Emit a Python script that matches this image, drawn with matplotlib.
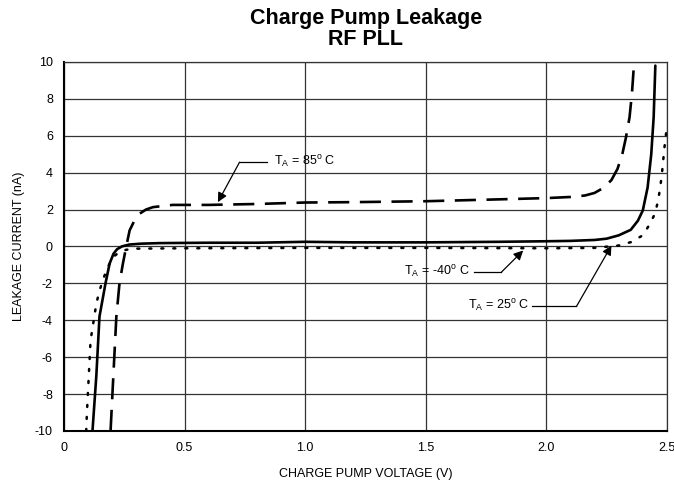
import matplotlib
matplotlib.use("Agg")
import matplotlib.pyplot as plt

plt.rcParams['font.family'] = ['Liberation Sans', 'DejaVu Sans']
plt.rcParams['mathtext.fontset'] = 'custom'
plt.rcParams['mathtext.rm'] = 'Liberation Sans'
plt.rcParams['axes.unicode_minus'] = False

# curvas (tensao V, corrente nA)
v_25 = [0.118, 0.134, 0.147, 0.172, 0.189, 0.205, 0.22, 0.24, 0.27, 0.32, 0.4, 0.6, 0.8, 1.0,
        1.2, 1.5, 1.8, 2.0, 2.1, 2.2, 2.25, 2.3, 2.35, 2.38, 2.4, 2.42, 2.435, 2.445, 2.452]
i_25 = [-10, -7.0, -3.8, -2.0, -0.93, -0.4, -0.15, 0.0, 0.1, 0.15, 0.18, 0.2, 0.2, 0.25,
        0.22, 0.22, 0.25, 0.28, 0.3, 0.35, 0.42, 0.6, 0.9, 1.4, 1.95, 3.2, 5.0, 7.0, 9.8]

v_85 = [0.193, 0.203, 0.217, 0.23, 0.244, 0.258, 0.272, 0.29, 0.313, 0.34, 0.369, 0.45, 0.6,
        0.8, 1.0, 1.2, 1.5, 1.8, 2.0, 2.1, 2.16, 2.2, 2.24, 2.27, 2.295, 2.315, 2.33, 2.345, 2.355, 2.363]
i_85 = [-10, -7.4, -3.8, -2.0, -0.94, 0.0, 0.87, 1.35, 1.77, 2.0, 2.13, 2.25, 2.25,
        2.3, 2.38, 2.4, 2.45, 2.55, 2.62, 2.68, 2.76, 2.9, 3.2, 3.6, 4.2, 5.0, 5.9, 7.0, 8.3, 9.8]

v_m40 = [0.092, 0.095, 0.11, 0.134, 0.147, 0.161, 0.178, 0.203, 0.23, 0.258, 0.3, 0.5, 1.0,
         1.5, 2.0, 2.2, 2.3, 2.35, 2.4, 2.43, 2.45, 2.464, 2.478, 2.49, 2.5]
i_m40 = [-10, -9.0, -5.1, -3.1, -2.4, -1.84, -1.21, -0.58, -0.3, -0.18, -0.12, -0.1, -0.08,
         -0.08, -0.1, -0.08, 0.05, 0.23, 0.6, 1.23, 1.77, 2.5, 3.76, 5.4, 6.5]

x_ticks = [0, 0.5, 1.0, 1.5, 2.0, 2.5]
x_labels = ['0', '0.5', '1.0', '1.5', '2.0', '2.5']
y_ticks = [-10, -8, -6, -4, -2, 0, 2, 4, 6, 8, 10]

fig = plt.figure(figsize=(6.74, 4.82), dpi=100)
ax = fig.add_axes([0.095, 0.106, 0.8945, 0.7655])

ax.plot(v_25, i_25, color='black', lw=1.9, solid_capstyle='round', solid_joinstyle='round')
ax.plot(v_85, i_85, color='black', lw=1.9, linestyle=(0, (8, 4)))
ax.plot(v_m40, i_m40, color='black', lw=1.8, linestyle=(0, (0.8, 4.0)), dash_capstyle='round')

ax.set_xlim(0, 2.5)
ax.set_ylim(-10, 10)
ax.set_xticks(x_ticks)
ax.set_xticklabels(x_labels)
ax.set_yticks(y_ticks)
ax.tick_params(length=0, labelsize=9, pad=8)
ax.grid(True, color='#333333', lw=0.9)
ax.set_axisbelow(True)
for s in ax.spines.values():
    s.set_color('#333333')
    s.set_linewidth(0.9)
ax.spines['left'].set_color('black')
ax.spines['left'].set_linewidth(1.5)
ax.spines['bottom'].set_color('black')
ax.spines['bottom'].set_linewidth(1.5)

ax.set_xlabel('CHARGE PUMP VOLTAGE (V)', fontsize=9, labelpad=10)
ax.set_ylabel('LEAKAGE CURRENT (nA)', fontsize=9, labelpad=7)

# anotacoes com linha de chamada
arrow = dict(arrowstyle='-|>', color='black', lw=0.9, mutation_scale=14, shrinkA=0, shrinkB=0)
fs = 9

ax.plot([0.728, 0.84], [4.57, 4.57], color='black', lw=0.9)
ax.annotate('', xy=(0.638, 2.4), xytext=(0.728, 4.57), arrowprops=arrow)
ax.text(0.87, 4.57, r'T$_\mathregular{A}$ = 85$^\mathregular{o}$ C', fontsize=fs, va='center', ha='left')

ax.plot([1.70, 1.814], [-1.39, -1.39], color='black', lw=0.9)
ax.annotate('', xy=(1.904, -0.22), xytext=(1.814, -1.39), arrowprops=arrow)
ax.text(1.68, -1.39, r'T$_\mathregular{A}$ = -40$^\mathregular{o}$ C', fontsize=fs, va='center', ha='right')

ax.plot([1.94, 2.125], [-3.25, -3.25], color='black', lw=0.9)
ax.annotate('', xy=(2.27, 0.05), xytext=(2.125, -3.25), arrowprops=arrow)
ax.text(1.93, -3.25, r'T$_\mathregular{A}$ = 25$^\mathregular{o}$ C', fontsize=fs, va='center', ha='right')

fig.text(0.543, 0.94, 'Charge Pump Leakage\nRF PLL', fontsize=15.5, fontweight='bold',
         ha='center', va='center', linespacing=0.95)

fig.savefig('out.png', dpi=100)
